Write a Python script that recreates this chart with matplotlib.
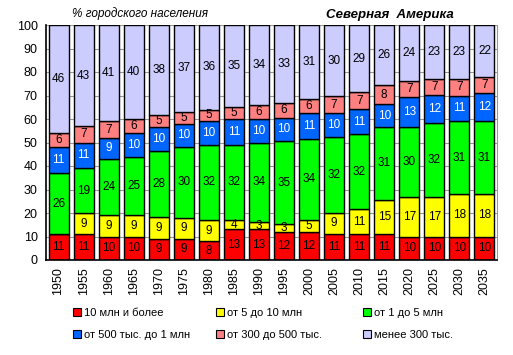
import numpy as np
import matplotlib
matplotlib.use('Agg')
import matplotlib.pyplot as plt
from matplotlib.patches import Patch

# shares of urban population by city size, North America
years = ['1950', '1955', '1960', '1965', '1970', '1975', '1980', '1985', '1990',
         '1995', '2000', '2005', '2010', '2015', '2020', '2025', '2030', '2035']
over_10m = [11, 11, 10, 10, 9, 9, 8, 13, 13, 12, 12, 11, 11, 11, 10, 10, 10, 10]
from_5_to_10m = [0, 9, 9, 9, 9, 9, 9, 4, 3, 3, 5, 9, 11, 15, 17, 17, 18, 18]
from_1_to_5m = [26, 19, 24, 25, 28, 30, 32, 32, 34, 35, 34, 32, 32, 31, 30, 32, 31, 31]
from_500k_to_1m = [11, 11, 9, 10, 10, 10, 10, 11, 10, 10, 11, 10, 11, 10, 13, 12, 11, 12]
from_300k_to_500k = [6, 7, 7, 6, 5, 5, 5, 5, 6, 6, 6, 7, 7, 8, 7, 7, 7, 7]
under_300k = [46, 43, 41, 40, 38, 37, 36, 35, 34, 33, 31, 30, 29, 26, 24, 23, 23, 22]

series = [over_10m, from_5_to_10m, from_1_to_5m, from_500k_to_1m, from_300k_to_500k, under_300k]
names = ['10 млн и более', 'от 5 до 10 млн', 'от 1 до 5 млн',
         'от 500 тыс. до 1 млн', 'от 300 до 500 тыс.', 'менее 300 тыс.']
colors = ['#ff0000', '#ffff00', '#00ff00', '#0066ff', '#ff8080', '#ccccff']
text_colors = ['black', 'black', 'black', 'white', 'black', 'black']

plt.rcParams['font.family'] = ['Liberation Sans', 'DejaVu Sans']

data = np.array(series, dtype=float)
shares = data / data.sum(axis=0) * 100  # 100% stacked, like the original

fig = plt.figure(figsize=(5.13, 3.55), dpi=100)
ax = fig.add_axes([46 / 513, 1 - 260 / 355, 451 / 513, 235 / 355])

x = np.arange(len(years))
bottom = np.zeros(len(years))
for vals, raw, col, tcol in zip(shares, data, colors, text_colors):
    ax.bar(x, vals, width=0.8, bottom=bottom, color=col, edgecolor='black', linewidth=1.0, zorder=2)
    for xi, b, v, r in zip(x, bottom, vals, raw):
        if r > 0:
            ax.text(xi, b + v / 2, f'{int(r)}', ha='center', va='center', fontsize=8.5,
                    color=tcol, zorder=3)
    bottom += vals

ax.set_xlim(-0.5, len(years) - 0.5)
ax.set_ylim(0, 100)
ax.set_yticks(range(0, 101, 10))
ax.tick_params(axis='y', labelsize=9, length=0, pad=6)
ax.set_xticks(x)
ax.set_xticklabels(years, rotation=90, fontsize=9)
ax.tick_params(axis='x', length=0, pad=5)
ax.yaxis.grid(True, color='#999999', linewidth=0.8, zorder=0)
ax.set_axisbelow(True)
ax.spines['top'].set_visible(False)
ax.spines['right'].set_color('#999999')
ax.spines['left'].set_linewidth(1.2)
ax.spines['bottom'].set_linewidth(1.2)

fig.text(140 / 513, 1 - 14 / 355, '% городского населения', ha='center', va='center',
         fontsize=8.5, style='italic')
fig.text(390 / 513, 1 - 15 / 355, 'Северная  Америка', ha='center', va='center',
         fontsize=9.5, style='italic', weight='bold')

# legend: three columns, two rows, placed like the Excel original
col_x = [73, 216, 363]
for c, xpos in enumerate(col_x):
    idx = [c, c + 3]
    handles = [Patch(facecolor=colors[i], edgecolor='black', linewidth=0.8) for i in idx]
    fig.legend(handles, [names[i] for i in idx], loc='upper left',
               bbox_to_anchor=(xpos / 513, 1 - 308 / 355), frameon=False, fontsize=8,
               handlelength=0.7, handleheight=0.7, handletextpad=0.3, labelspacing=1.1,
               borderaxespad=0, borderpad=0)

fig.savefig('out.png', dpi=100)
